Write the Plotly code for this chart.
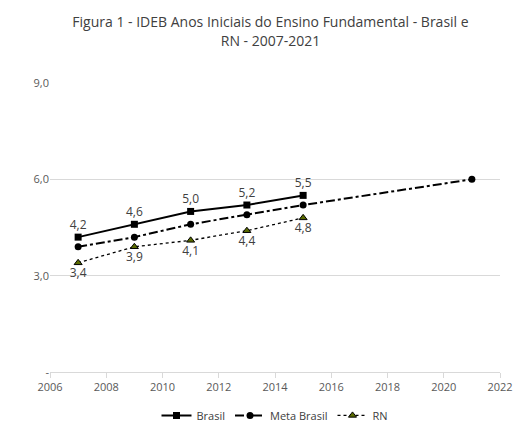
import plotly.graph_objects as go

years = [2007, 2009, 2011, 2013, 2015]
brasil = [4.2, 4.6, 5.0, 5.2, 5.5]
meta_years = [2007, 2009, 2011, 2013, 2015, 2021]
meta_brasil = [3.9, 4.2, 4.6, 4.9, 5.2, 6.0]
rn = [3.4, 3.9, 4.1, 4.4, 4.8]

fmt = lambda v: f"{v:.1f}".replace(".", ",")

fig = go.Figure()
fig.add_trace(go.Scatter(x=years, y=brasil, name="Brasil", mode="lines+markers+text",
                         line=dict(color="black", width=2),
                         marker=dict(symbol="square", size=7, color="black"),
                         text=[fmt(v) for v in brasil], textposition="top center",
                         textfont=dict(color="#404040", size=12)))
fig.add_trace(go.Scatter(x=meta_years, y=meta_brasil, name="Meta Brasil", mode="lines+markers",
                         line=dict(color="black", width=2, dash="dashdot"),
                         marker=dict(symbol="circle", size=7, color="black")))
fig.add_trace(go.Scatter(x=years, y=rn, name="RN", mode="lines+markers+text",
                         line=dict(color="black", width=1.3, dash="dot"),
                         marker=dict(symbol="triangle-up", size=7, color="#5a6b00",
                                     line=dict(color="black", width=1)),
                         text=[fmt(v) for v in rn], textposition="bottom center",
                         textfont=dict(color="#404040", size=12)))

fig.update_layout(
    width=525, height=432,
    paper_bgcolor="white", plot_bgcolor="white",
    font=dict(family="Open Sans, Calibri, sans-serif", color="#595959", size=11),
    title=dict(text="Figura 1 - IDEB Anos Iniciais do Ensino Fundamental - Brasil e<br>RN - 2007-2021",
               x=0.5, y=0.955, xanchor="center", font=dict(size=14, color="#404040")),
    margin=dict(l=42, r=33, t=75, b=68, autoexpand=False),
    legend=dict(orientation="h", x=0.5, xanchor="center", y=-0.1, yanchor="top",
                font=dict(size=11, color="#404040")),
    xaxis=dict(range=[2006, 2022], tickvals=list(range(2006, 2023, 2)), showgrid=False,
               showline=True, linecolor="#d9d9d9", ticks="outside", tickcolor="#d9d9d9",
               zeroline=False),
    yaxis=dict(range=[0, 9], tickvals=[0, 3, 6, 9], ticktext=["-", "3,0", "6,0", "9,0"],
               showgrid=True, gridcolor="#d9d9d9", zeroline=False, showline=False),
)
fig.write_html("out.html")
